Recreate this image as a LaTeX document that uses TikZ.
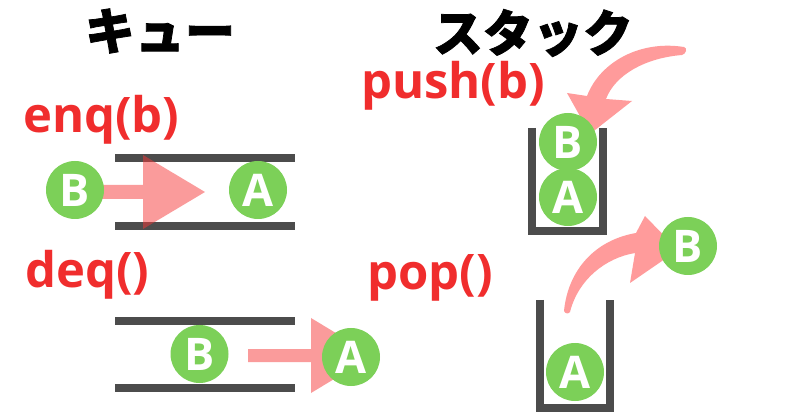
\documentclass[tikz,border=0pt]{standalone}
\usepackage{fontspec}
\setmainfont{Open Sans}
\newfontfamily\cjk{Noto Sans CJK JP}[BoldFeatures={FakeBold=1.5}]
\definecolor{ballgreen}{RGB}{124,208,88}
\definecolor{railgray}{RGB}{76,76,76}
\definecolor{labelred}{RGB}{240,45,45}
\definecolor{arrowpink}{RGB}{255,155,155}
\definecolor{arrowred}{RGB}{245,55,55}
\tikzset{
  ball/.style={circle,fill=ballgreen,minimum size=58pt,inner sep=0pt,text=white,font=\fontsize{45}{45}\selectfont\bfseries},
  rail/.style={draw=railgray,line width=8pt},
  title/.style={font=\cjk\fontsize{50}{50}\selectfont\bfseries,text=black},
  oplabel/.style={anchor=base west,inner sep=0pt,text=labelred,font=\fontsize{49}{49}\selectfont\bfseries},
  qarrow/.style={fill=arrowred,fill opacity=0.5,draw=none},
  carrow/.style={fill=arrowpink,draw=none}
}
\begin{document}
\begin{tikzpicture}[x=1pt,y=-1pt]
\useasboundingbox (0,0) rectangle (800,419);
% titles
\node[title] (tq) at (160,31) {キュー};
\node[title] (ts) at (533,33) {スタック};
% labels
\node[oplabel] (enq) at (23,133) {enq(b)};
\node[oplabel] (deq) at (25,288) {deq()};
\node[oplabel] (push) at (361,99) {push(b)};
\node[oplabel] (pop) at (367,290) {pop()};
% enqueue
\draw[rail] (115,158.5) -- (295,158.5);
\draw[rail] (115,226) -- (295,226);
\fill[qarrow] (100,185) -- (143,185) -- (143,155) -- (205,192) -- (143,229) -- (143,199) -- (100,199) -- cycle;
\node[ball] (eb) at (75,190) {B};
\node[ball] (ea) at (258,190) {A};
% dequeue
\draw[rail] (115,321) -- (295,321);
\draw[rail] (115,388) -- (295,388);
\fill[qarrow] (248,349) -- (311,349) -- (311,318) -- (373,355.5) -- (311,393) -- (311,362) -- (248,362) -- cycle;
\node[ball] (db) at (199.5,354) {B};
\node[ball] (da) at (351,357) {A};
% push stack
\draw[draw=railgray,line width=8pt,line join=miter] (532,128) -- (532,231.5) -- (603,231.5) -- (603,128);
\fill[carrow] (684,47) .. controls (640,40) and (600,62) .. (587,96) -- (567,93) -- (590,134) -- (632,101) -- (606,99) .. controls (615,75) and (645,58) .. (682,55) .. controls (686,54) and (688,48) .. (684,47) -- cycle;
\node[ball] (sa) at (568,197) {A};
\node[ball] (sb) at (568,142) {B};
% pop stack
\draw[draw=railgray,line width=8pt,line join=miter] (540,300) -- (540,408) -- (610,408) -- (610,300);
\fill[carrow] (564,311) .. controls (568,270) and (595,240) .. (636,233) -- (645,216) -- (678,250) -- (630,283) -- (635,253) .. controls (605,258) and (578,280) .. (570,312) .. controls (569,314) and (565,314) .. (564,311) -- cycle;
\node[ball] (pa) at (575,372) {A};
\node[ball] (pb) at (688,246) {B};
\end{tikzpicture}
\end{document}
